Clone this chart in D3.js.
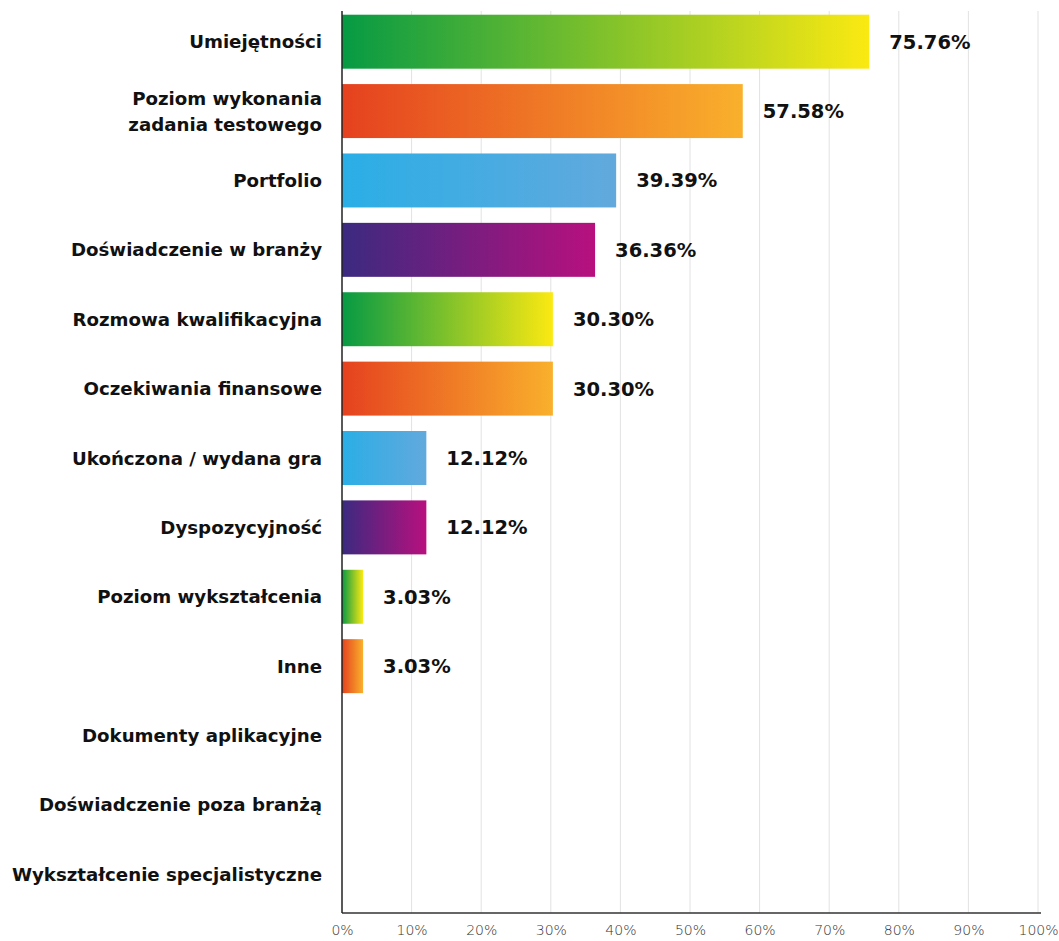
<!DOCTYPE html>
<html lang="pl">
<head>
<meta charset="utf-8">
<script src="https://cdn.jsdelivr.net/npm/d3@7"></script>
<style>
  html, body { margin: 0; padding: 0; background: #fff; }
  svg { display: block; }
  .cat { font-family: "DejaVu Sans", sans-serif; font-weight: 700; font-size: 18.2px; fill: #111; }
  .val { font-family: "DejaVu Sans", sans-serif; font-weight: 700; font-size: 19.5px; fill: #111; }
  .tick text { font-family: "DejaVu Sans", sans-serif; font-weight: 200; font-size: 14px; fill: #333; }
</style>
</head>
<body>
<svg id="chart" width="1059" height="941"></svg>
<script>
// Kryteria wyboru kandydata (% wskazań)
const categories = [
  "Umiejętności",
  "Poziom wykonania\nzadania testowego",
  "Portfolio",
  "Doświadczenie w branży",
  "Rozmowa kwalifikacyjna",
  "Oczekiwania finansowe",
  "Ukończona / wydana gra",
  "Dyspozycyjność",
  "Poziom wykształcenia",
  "Inne",
  "Dokumenty aplikacyjne",
  "Doświadczenie poza branżą",
  "Wykształcenie specjalistyczne"
];
const values = [75.76, 57.58, 39.39, 36.36, 30.30, 30.30, 12.12, 12.12, 3.03, 3.03, 0, 0, 0];
const tickValues = [0, 10, 20, 30, 40, 50, 60, 70, 80, 90, 100];

// Gradient palette, cycled over the bars
const palette = [
  ["#069a44", "#fbe912"],
  ["#e5411f", "#f9b02c"],
  ["#2aaee6", "#62a9dd"],
  ["#3b2a80", "#b8107e"]
];

const svg = d3.select("#chart");
const plotLeft = 342, plotRight = 1038, plotTop = 11, axisY = 913;

const x = d3.scaleLinear().domain([0, 100]).range([plotLeft, plotRight]);
const y = d3.scaleBand().domain(categories).range([7, 909]).paddingInner(0.222).paddingOuter(0.111);

// Gradients
const defs = svg.append("defs");
palette.forEach((p, i) => {
  const g = defs.append("linearGradient").attr("id", "grad" + i)
    .attr("x1", "0").attr("x2", "1").attr("y1", "0").attr("y2", "0");
  g.append("stop").attr("offset", "0").attr("stop-color", p[0]);
  g.append("stop").attr("offset", "1").attr("stop-color", p[1]);
});

// Vertical grid
svg.append("g").selectAll("line").data(tickValues.slice(1)).join("line")
  .attr("x1", d => x(d)).attr("x2", d => x(d))
  .attr("y1", plotTop).attr("y2", axisY)
  .attr("stroke", "#e2e2e2").attr("stroke-width", 1);

// Bars
svg.append("g").selectAll("rect").data(values).join("rect")
  .attr("x", x(0))
  .attr("y", (d, i) => y(categories[i]))
  .attr("width", d => x(d) - x(0))
  .attr("height", y.bandwidth())
  .attr("fill", (d, i) => `url(#grad${i % palette.length})`);

// Value labels
svg.append("g").selectAll("text").data(values.filter(v => v > 0)).join("text")
  .attr("class", "val")
  .attr("x", d => x(d) + 20)
  .attr("y", (d, i) => y(categories[i]) + y.bandwidth() / 2)
  .attr("dy", "0.36em")
  .text(d => d.toFixed(2) + "%");

// Category labels (multi-line where needed)
const catG = svg.append("g");
categories.forEach(c => {
  const lines = c.split("\n");
  const cy = y(c) + y.bandwidth() / 2;
  const lh = 26;
  const t = catG.append("text").attr("class", "cat").attr("text-anchor", "end");
  lines.forEach((ln, j) => {
    t.append("tspan").attr("x", plotLeft - 20)
      .attr("y", cy + (j - (lines.length - 1) / 2) * lh)
      .attr("dy", "0.36em").text(ln);
  });
});

// X axis
const xAxis = d3.axisBottom(x).tickValues(tickValues).tickFormat(d => d + "%").tickSize(0).tickPadding(12);
const ax = svg.append("g").attr("transform", `translate(0,${axisY})`).call(xAxis);
ax.select(".domain").remove();
ax.append("line").attr("x1", plotLeft).attr("x2", plotRight + 3).attr("y1", 0).attr("y2", 0)
  .attr("stroke", "#333").attr("stroke-width", 1.5);

// Left axis line
svg.append("line").attr("x1", plotLeft).attr("x2", plotLeft).attr("y1", plotTop).attr("y2", axisY)
  .attr("stroke", "#222").attr("stroke-width", 1.5);
</script>
</body>
</html>
